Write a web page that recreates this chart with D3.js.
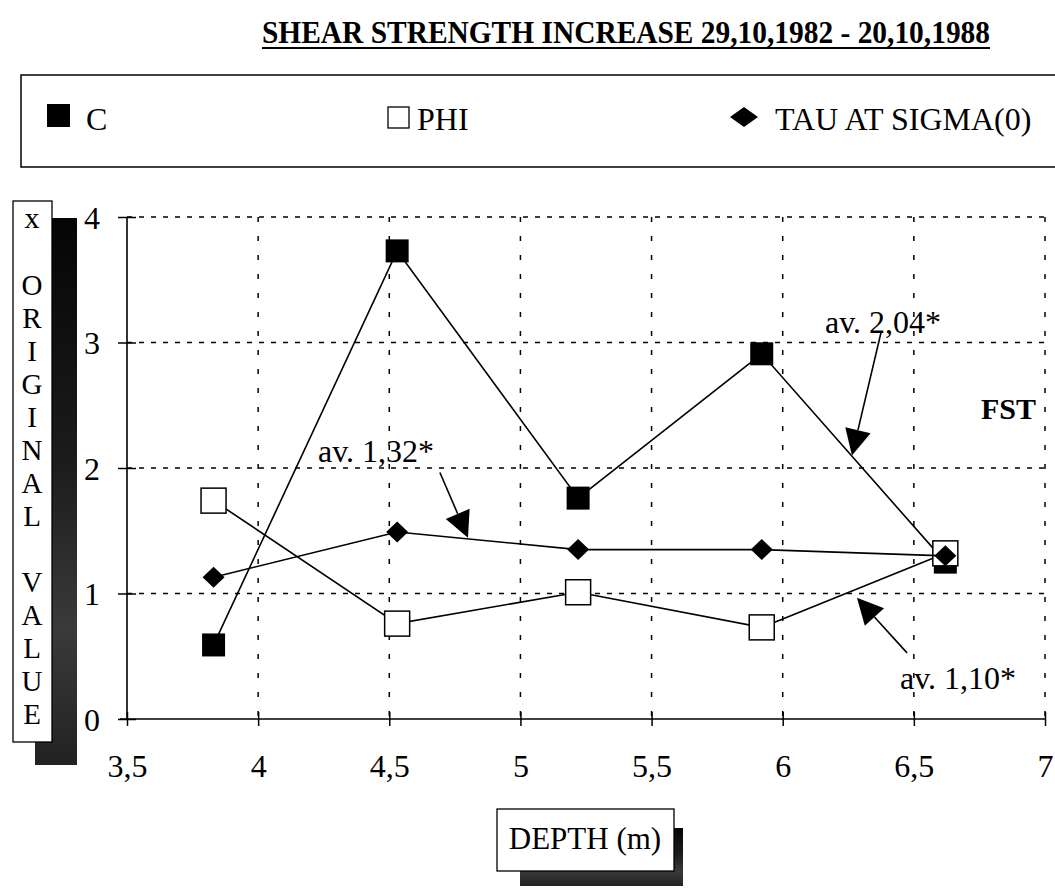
<!DOCTYPE html>
<html>
<head>
<meta charset="utf-8">
<script src="https://cdn.jsdelivr.net/npm/d3@7"></script>
<style>
    body { margin: 0; background: #fff; }
    text { font-family: "Liberation Serif", "Times New Roman", serif; fill: #000; }
</style>
</head>
<body>
<div id="chart-area"></div>
<script>
// data
var depth = [3.83, 4.53, 5.22, 5.92, 6.62];
var cValues = [0.59, 3.73, 1.76, 2.91, 1.25];
var phiValues = [1.74, 0.76, 1.01, 0.73, 1.32];
var tauValues = [1.13, 1.49, 1.35, 1.35, 1.30];

var xTicks = [3.5, 4, 4.5, 5, 5.5, 6, 6.5, 7];
var yTicks = [0, 1, 2, 3, 4];
var seriesNames = ["C", "PHI", "TAU AT SIGMA(0)"];
var yLabelLetters = ["O", "R", "I", "G", "I", "N", "A", "L", "", "V", "A", "L", "U", "E"];

// annotations in data units: text anchor, arrow start, arrow tip
var notes = [
    { label: "av. 1,32*", tx: 4.228, ty: 2.044, x1: 4.693, y1: 1.964, x2: 4.800, y2: 1.445 },
    { label: "av. 2,04*", tx: 6.161, ty: 3.074, x1: 6.375, y1: 3.082, x2: 6.264, y2: 2.100 },
    { label: "av. 1,10*", tx: 6.447, ty: 0.240, x1: 6.474, y1: 0.527, x2: 6.283, y2: 0.966 }
];

var width = 1055;
var height = 889;

var svg = d3.select("#chart-area").append("svg")
    .attr("width", width)
    .attr("height", height);

// rough shadow shading
var defs = svg.append("defs");
var grad = defs.append("linearGradient")
    .attr("id", "shade")
    .attr("x1", 0).attr("y1", 0).attr("x2", 0).attr("y2", 1);
grad.append("stop").attr("offset", "0%").attr("stop-color", "#050505");
grad.append("stop").attr("offset", "45%").attr("stop-color", "#1c1c1c");
grad.append("stop").attr("offset", "75%").attr("stop-color", "#3a3a3a");
grad.append("stop").attr("offset", "100%").attr("stop-color", "#222");

var x = d3.scaleLinear()
    .domain([3.5, 7])
    .range([127, 1045]);

var y = d3.scaleLinear()
    .domain([0, 4])
    .range([719, 217]);

var fmt = function(d) { return String(d).replace(".", ","); };

// title
svg.append("text")
    .attr("x", 626)
    .attr("y", 43)
    .attr("text-anchor", "middle")
    .attr("font-size", "32px")
    .attr("font-weight", "bold")
    .attr("textLength", 728)
    .attr("lengthAdjust", "spacingAndGlyphs")
    .text("SHEAR STRENGTH INCREASE 29,10,1982 - 20,10,1988");
svg.append("line")
    .attr("x1", 262).attr("x2", 990)
    .attr("y1", 48).attr("y2", 48)
    .attr("stroke", "#000").attr("stroke-width", 2);

// legend
var legend = svg.append("g");
legend.append("rect")
    .attr("x", 21).attr("y", 75)
    .attr("width", 1060).attr("height", 92)
    .attr("fill", "none").attr("stroke", "#000").attr("stroke-width", 1.5);
legend.append("rect")
    .attr("x", 47).attr("y", 104).attr("width", 23).attr("height", 23)
    .attr("fill", "#000");
legend.append("rect")
    .attr("x", 388).attr("y", 107).attr("width", 21).attr("height", 21)
    .attr("fill", "#fff").attr("stroke", "#000").attr("stroke-width", 1.3);
legend.append("path")
    .attr("d", "M730,117 L744,107 L758,117 L744,127 Z")
    .attr("fill", "#000");
legend.selectAll(".legend-label")
    .data(seriesNames)
    .enter().append("text")
    .attr("class", "legend-label")
    .attr("x", function(d, i) { return [86, 417, 775][i]; })
    .attr("y", 130)
    .attr("font-size", "32px")
    .text(function(d) { return d; });

// grid
var g = svg.append("g");
g.selectAll(".hgrid")
    .data(yTicks.slice(1))
    .enter().append("line")
    .attr("class", "hgrid")
    .attr("x1", x(3.5)).attr("x2", x(7))
    .attr("y1", function(d) { return y(d); })
    .attr("y2", function(d) { return y(d); })
    .attr("stroke", "#000").attr("stroke-width", 1.5)
    .attr("stroke-dasharray", "5,7");
g.selectAll(".vgrid")
    .data(xTicks.slice(1))
    .enter().append("line")
    .attr("class", "vgrid")
    .attr("x1", function(d) { return x(d); })
    .attr("x2", function(d) { return x(d); })
    .attr("y1", y(4)).attr("y2", y(0))
    .attr("stroke", "#000").attr("stroke-width", 1.5)
    .attr("stroke-dasharray", "5,14");

// axes
var bottomAxis = d3.axisBottom(x)
    .tickValues(xTicks)
    .tickSize(7)
    .tickFormat(fmt);
var xAxisG = svg.append("g")
    .attr("class", "bottom axis")
    .attr("transform", "translate(0," + y(0) + ")")
    .call(bottomAxis);
xAxisG.select(".domain").attr("d", "M" + (x(3.5) - 7) + ",0H" + x(7)).attr("stroke-width", 1.6);
xAxisG.selectAll(".tick line").attr("y1", -7).attr("stroke-width", 1.5);
xAxisG.selectAll(".tick text")
    .attr("y", 58).attr("dy", 0)
    .attr("font-size", "32px")
    .attr("font-family", "Liberation Serif, serif");

var leftAxis = d3.axisLeft(y)
    .tickValues(yTicks)
    .tickSize(9)
    .tickFormat(fmt);
var yAxisG = svg.append("g")
    .attr("class", "left axis")
    .attr("transform", "translate(" + x(3.5) + ",0)")
    .call(leftAxis);
yAxisG.select(".domain").attr("d", "M0," + y(4) + "V" + y(0)).attr("stroke-width", 1.6);
yAxisG.selectAll(".tick line").attr("x1", 9).attr("stroke-width", 1.5);
yAxisG.selectAll(".tick text")
    .attr("x", -27).attr("dy", "0.35em")
    .attr("font-size", "32px")
    .attr("font-family", "Liberation Serif, serif");

// series
var line = d3.line()
    .x(function(d) { return x(d[0]); })
    .y(function(d) { return y(d[1]); });

function drawSeries(values) {
    var pts = d3.zip(depth, values);
    svg.append("path")
        .datum(pts)
        .attr("d", line)
        .attr("fill", "none")
        .attr("stroke", "#000")
        .attr("stroke-width", 1.6);
    return pts;
}

var cPts = drawSeries(cValues);
svg.selectAll(".c-mark")
    .data(cPts)
    .enter().append("rect")
    .attr("class", "c-mark")
    .attr("x", function(d) { return x(d[0]) - 11.5; })
    .attr("y", function(d) { return y(d[1]) - 11.5; })
    .attr("width", 23).attr("height", 23)
    .attr("fill", "#000");

var phiPts = drawSeries(phiValues);
svg.selectAll(".phi-mark")
    .data(phiPts)
    .enter().append("rect")
    .attr("class", "phi-mark")
    .attr("x", function(d) { return x(d[0]) - 12.5; })
    .attr("y", function(d) { return y(d[1]) - 12.5; })
    .attr("width", 25).attr("height", 25)
    .attr("fill", "#fff").attr("stroke", "#000").attr("stroke-width", 1.5);

var tauPts = drawSeries(tauValues);
svg.selectAll(".tau-mark")
    .data(tauPts)
    .enter().append("path")
    .attr("class", "tau-mark")
    .attr("d", function(d) {
        var cx = x(d[0]), cy = y(d[1]);
        return "M" + (cx - 11) + "," + cy + "L" + cx + "," + (cy - 10.5) +
            "L" + (cx + 11) + "," + cy + "L" + cx + "," + (cy + 10.5) + "Z";
    })
    .attr("fill", "#000");

// annotations with arrows
notes.forEach(function(n) {
    var ax = x(n.x1), ay = y(n.y1), bx = x(n.x2), by = y(n.y2);
    var len = Math.sqrt((bx - ax) * (bx - ax) + (by - ay) * (by - ay));
    var ux = (bx - ax) / len, uy = (by - ay) / len;
    var hl = 26, hw = 13;
    var baseX = bx - ux * hl, baseY = by - uy * hl;
    svg.append("line")
        .attr("x1", ax).attr("y1", ay)
        .attr("x2", baseX).attr("y2", baseY)
        .attr("stroke", "#000").attr("stroke-width", 1.6);
    svg.append("path")
        .attr("d", "M" + bx + "," + by +
            "L" + (baseX - uy * hw) + "," + (baseY + ux * hw) +
            "L" + (baseX + uy * hw) + "," + (baseY - ux * hw) + "Z")
        .attr("fill", "#000");
    svg.append("text")
        .attr("x", x(n.tx)).attr("y", y(n.ty))
        .attr("font-size", "32px")
        .text(n.label);
});

svg.append("text")
    .attr("x", x(6.756)).attr("y", y(2.387))
    .attr("font-size", "30px")
    .attr("font-weight", "bold")
    .text("FST");

// y label box with shadow
svg.append("rect")
    .attr("x", 35).attr("y", 218).attr("width", 42).attr("height", 547)
    .attr("fill", "url(#shade)");
svg.append("rect")
    .attr("x", 13).attr("y", 201).attr("width", 39).attr("height", 541)
    .attr("fill", "#fff").attr("stroke", "#000").attr("stroke-width", 1.3);
svg.append("text")
    .attr("x", 32).attr("y", 228)
    .attr("text-anchor", "middle")
    .attr("font-size", "30px")
    .text("x");
svg.selectAll(".ylab")
    .data(yLabelLetters)
    .enter().append("text")
    .attr("class", "ylab")
    .attr("x", 32)
    .attr("y", function(d, i) { return 295 + i * 33; })
    .attr("text-anchor", "middle")
    .attr("font-size", "29px")
    .text(function(d) { return d; });

// x label box with shadow
svg.append("rect")
    .attr("x", 520).attr("y", 828).attr("width", 163).attr("height", 58)
    .attr("fill", "url(#shade)");
svg.append("rect")
    .attr("x", 497).attr("y", 809).attr("width", 177).attr("height", 62)
    .attr("fill", "#fff").attr("stroke", "#000").attr("stroke-width", 1.3);
svg.append("text")
    .attr("x", 585).attr("y", 849)
    .attr("text-anchor", "middle")
    .attr("font-size", "31px")
    .text("DEPTH (m)");
</script>
</body>
</html>
